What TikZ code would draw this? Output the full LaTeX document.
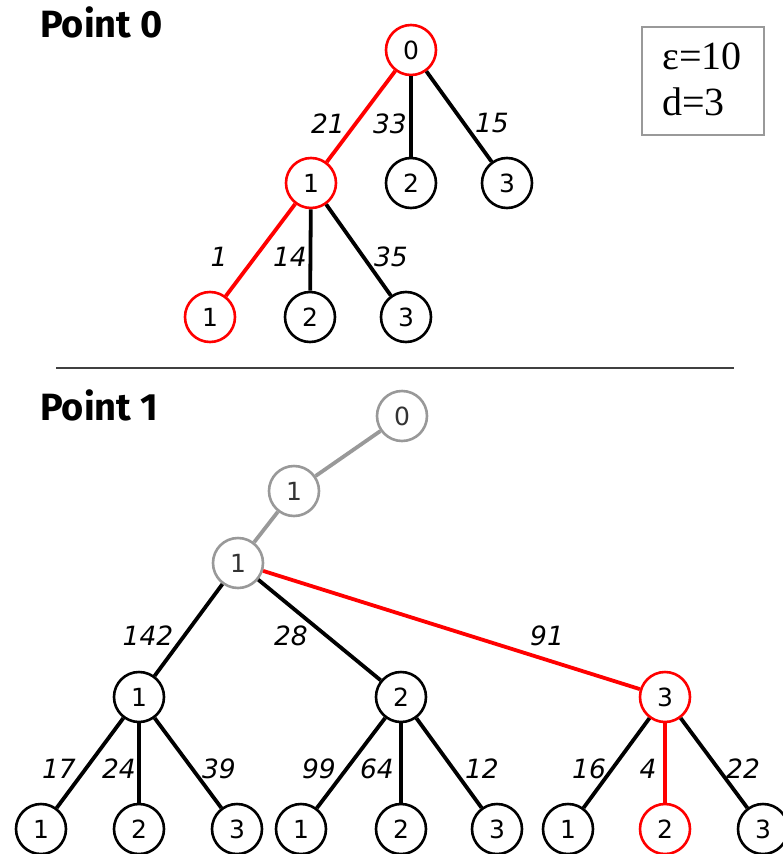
\documentclass[tikz,border=0pt]{standalone}
\usepackage{fontspec}
\setmainfont{DejaVu Sans}
\newfontfamily\titlefont{Fira Sans}
\newfontfamily\boxfont{Liberation Serif}
\definecolor{grayc}{HTML}{999999}
\definecolor{redc}{HTML}{FF0000}
\begin{document}
\begin{tikzpicture}[x=1pt,y=-1pt,
  nd/.style={circle,draw=black,line width=2.6pt,minimum size=50pt,inner sep=0pt,font=\fontsize{25}{25}\selectfont,fill=white},
  rnd/.style={nd,draw=redc},
  gnd/.style={nd,draw=grayc,text=black!80},
  ed/.style={line width=3.8pt,black},
  red/.style={line width=3.8pt,redc},
  ged/.style={line width=3.8pt,grayc},
  lbl/.style={font=\fontsize{26.5}{26.5}\selectfont\itshape,inner sep=0pt},
  ttl/.style={font=\titlefont\bfseries\fontsize{38}{38}\selectfont,inner sep=0pt,anchor=base west}]
\useasboundingbox (0,0) rectangle (783,854);
% titles
\node[ttl] (t0) at (40,37) {Point 0};
\node[ttl] (t1) at (40,420) {Point 1};
% box
\node[draw=grayc,line width=1.4pt,minimum width=122pt,minimum height=108pt,inner sep=0pt] (box) at (703,81) {};
\node[font=\boxfont\fontsize{40}{46}\selectfont,align=left,inner sep=0pt] (boxt) at (702,79) {ε=10\\d=3};
% divider
\coordinate (dl) at (56,368);
\coordinate (dr) at (734,368);
\draw[line width=1.5pt,black!75] (dl) -- (dr);
% top tree
\node[rnd] (a0) at (411,50) {0};
\node[rnd] (a1) at (311,183) {1};
\node[nd] (a2) at (411,183) {2};
\node[nd] (a3) at (507,183) {3};
\node[rnd] (b1) at (210,317) {1};
\node[nd] (b2) at (310,317) {2};
\node[nd] (b3) at (406,317) {3};
\draw[red] (a0) -- (a1);
\draw[ed] (a0) -- (a2);
\draw[ed] (a0) -- (a3);
\draw[red] (a1) -- (b1);
\draw[ed] (a1) -- (b2);
\draw[ed] (a1) -- (b3);
\node[lbl] (l21) at (328,124) {21};
\node[lbl] (l33) at (390,124) {33};
\node[lbl] (l15) at (492,123) {15};
\node[lbl] (l1) at (219,257) {1};
\node[lbl] (l14) at (290,257) {14};
\node[lbl] (l35) at (391,257) {35};
% bottom tree
\node[gnd] (g0) at (402,416) {0};
\node[gnd] (g1) at (294,491) {1};
\node[gnd] (g2) at (238,563) {1};
\node[nd] (c1) at (139,697) {1};
\node[nd] (c2) at (401,697) {2};
\node[rnd] (c3) at (665,697) {3};
\node[nd] (d1) at (41,829) {1};
\node[nd] (d2) at (139,829) {2};
\node[nd] (d3) at (237,829) {3};
\node[nd] (d4) at (301,829) {1};
\node[nd] (d5) at (401,829) {2};
\node[nd] (d6) at (497,829) {3};
\node[nd] (d7) at (568,829) {1};
\node[rnd] (d8) at (665,829) {2};
\node[nd] (d9) at (763,829) {3};
\draw[ged] (g0) -- (g1);
\draw[ged] (g1) -- (g2);
\draw[ed] (g2) -- (c1);
\draw[ed] (g2) -- (c2);
\draw[red] (g2) -- (c3);
\draw[ed] (c1) -- (d1);
\draw[ed] (c1) -- (d2);
\draw[ed] (c1) -- (d3);
\draw[ed] (c2) -- (d4);
\draw[ed] (c2) -- (d5);
\draw[ed] (c2) -- (d6);
\draw[ed] (c3) -- (d7);
\draw[red] (c3) -- (d8);
\draw[ed] (c3) -- (d9);
\node[lbl] (l142) at (148,636) {142};
\node[lbl] (l28) at (291,636) {28};
\node[lbl] (l91) at (547,636) {91};
\node[lbl] (l17) at (59,769) {17};
\node[lbl] (l24) at (119,769) {24};
\node[lbl] (l39) at (219,769) {39};
\node[lbl] (l99) at (319,769) {99};
\node[lbl] (l64) at (377,769) {64};
\node[lbl] (l12) at (482,769) {12};
\node[lbl] (l16) at (589,769) {16};
\node[lbl] (l4) at (648,769) {4};
\node[lbl] (l22) at (743,769) {22};
\end{tikzpicture}
\end{document}
